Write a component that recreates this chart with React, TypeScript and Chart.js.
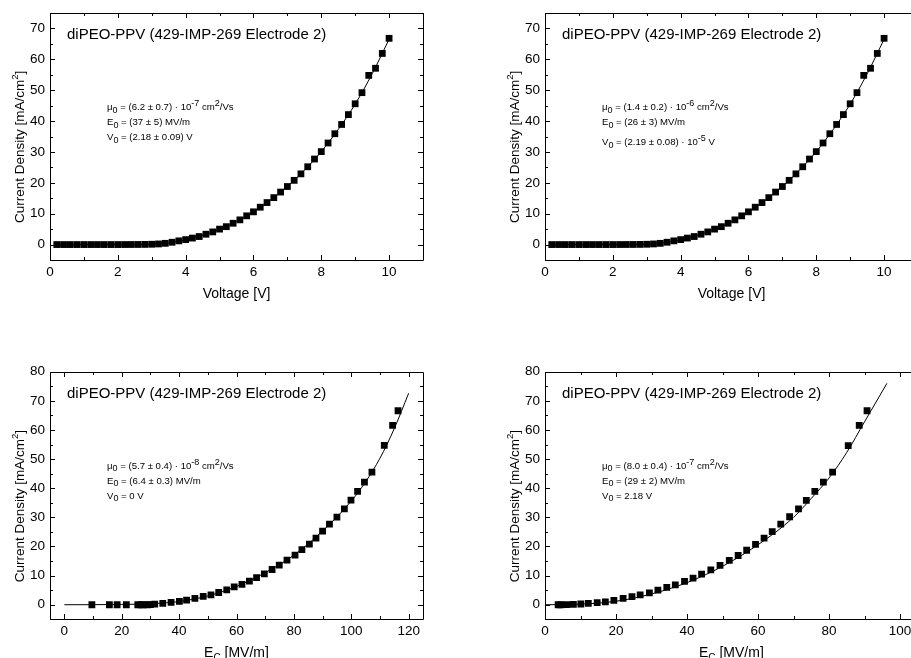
import React, { useEffect, useRef } from 'react';
import { Chart, registerables } from 'chart.js';

Chart.register(...registerables);

const FONT = '"Liberation Sans", Arial, Helvetica, sans-serif';

// ---------- data ----------
const voltage = [
  0.2, 0.4, 0.6, 0.8, 1.0, 1.2, 1.4, 1.6, 1.8, 2.0,
  2.2, 2.4, 2.6, 2.8, 3.0, 3.2, 3.4, 3.6, 3.8, 4.0,
  4.2, 4.4, 4.6, 4.8, 5.0, 5.2, 5.4, 5.6, 5.8, 6.0,
  6.2, 6.4, 6.6, 6.8, 7.0, 7.2, 7.4, 7.6, 7.8, 8.0,
  8.2, 8.4, 8.6, 8.8, 9.0, 9.2, 9.4, 9.6, 9.8, 10.0,
];
const currentDensity = [
  0, 0, 0, 0, 0, 0, 0, 0, 0, 0,
  0.01, 0.02, 0.03, 0.05, 0.1, 0.2, 0.4, 0.75, 1.2, 1.6,
  2.1, 2.6, 3.35, 4.1, 5.0, 5.8, 6.9, 8.0, 9.3, 10.6,
  12.1, 13.6, 15.2, 17.0, 18.8, 20.8, 22.9, 25.2, 27.7, 30.1,
  32.9, 35.9, 38.9, 42.1, 45.6, 49.2, 54.8, 57.1, 61.9, 66.8,
];
const voltageFit = [0.2, 1, 2, 2.5, 3, 3.5, 4, 4.5, 5, 5.5, 6, 6.5, 7, 7.5, 8, 8.5, 9, 9.5, 10];
const currentDensityFit = [0, 0, 0, 0.02, 0.1, 0.55, 1.6, 3.0, 4.9, 7.4, 10.6, 14.4, 18.8, 24.0, 30.1, 37.3, 45.5, 55.3, 66.5];

const fieldV0Zero = [
  9.6, 15.7, 18.4, 21.6, 25.6, 26.7, 27.5, 29.0, 30.0, 31.5,
  34.3, 37.2, 40.1, 42.6, 45.5, 48.4, 51.1, 53.8, 56.6, 59.2,
  61.9, 64.5, 67.0, 69.7, 72.4, 74.9, 77.6, 80.4, 82.8, 85.4,
  87.7, 90.0, 92.4, 95.0, 97.6, 99.9, 102.2, 104.6, 107.2, 111.5,
  114.4, 116.3,
];
const currentV0Zero = [
  0, 0, 0, 0, 0, 0, 0, 0, 0.05, 0.2,
  0.45, 0.8, 1.15, 1.6, 2.2, 2.85, 3.4, 4.2, 5.1, 6.1,
  7.0, 8.1, 9.3, 10.6, 12.1, 13.6, 15.3, 17.0, 18.9, 20.8,
  22.9, 25.3, 27.7, 30.1, 32.9, 35.9, 38.9, 42.1, 45.5, 54.7,
  61.6, 66.6,
];
const fieldV0ZeroFit = [0, 10, 20, 30, 40, 50, 60, 70, 80, 90, 100, 105, 110, 115, 120];
const currentV0ZeroFit = [0, 0.02, 0.1, 0.35, 1.1, 3.0, 6.3, 11.0, 17.0, 25.3, 35.6, 42.2, 50.3, 60.5, 72.6];

const fieldV0 = [
  3.7, 4.5, 6.1, 8.0, 10.1, 12.2, 14.7, 17.0, 19.4, 22.0,
  24.5, 26.8, 29.4, 31.8, 34.3, 36.7, 39.3, 41.7, 44.1, 46.7,
  49.3, 51.9, 54.4, 56.8, 59.3, 61.7, 64.0, 66.4, 68.9, 71.4,
  73.6, 76.0, 78.4, 81.0, 85.4, 88.5, 90.7,
];
const currentV0 = [
  0, 0, 0.05, 0.1, 0.25, 0.45, 0.7, 1.0, 1.5, 2.2,
  2.75, 3.4, 4.1, 5.0, 5.95, 6.85, 8.0, 9.15, 10.5, 12.0,
  13.5, 15.2, 16.9, 18.7, 20.7, 22.9, 25.1, 27.7, 30.2, 32.9,
  35.8, 38.9, 42.1, 45.5, 54.6, 61.6, 66.6,
];
const fieldV0Fit = [0, 10, 20, 30, 40, 50, 60, 70, 75, 80, 85, 90, 96.3];
const currentV0Fit = [0, 0.2, 1.2, 3.7, 7.6, 13.2, 20.6, 30.0, 36.5, 43.5, 52.3, 62.8, 76.0];

const voltageTicks = [0, 2, 4, 6, 8, 10];
const fieldTicksA = [0, 20, 40, 60, 80, 100, 120];
const fieldTicksB = [0, 20, 40, 60, 80, 100];
const densityTicksTop = [0, 10, 20, 30, 40, 50, 60, 70];
const densityTicksBottom = [0, 10, 20, 30, 40, 50, 60, 70, 80];

const titleText = 'diPEO-PPV (429-IMP-269 Electrode 2)';

type Seg = { t: string; m?: 'sub' | 'sup' };

const annotTL: Seg[][] = [
  [{ t: 'μ' }, { t: '0', m: 'sub' }, { t: ' = (6.2 ± 0.7) · 10' }, { t: '-7', m: 'sup' }, { t: ' cm' }, { t: '2', m: 'sup' }, { t: '/Vs' }],
  [{ t: 'E' }, { t: '0', m: 'sub' }, { t: ' = (37 ± 5) MV/m' }],
  [{ t: 'V' }, { t: '0', m: 'sub' }, { t: ' = (2.18 ± 0.09) V' }],
];
const annotTR: Seg[][] = [
  [{ t: 'μ' }, { t: '0', m: 'sub' }, { t: ' = (1.4 ± 0.2) · 10' }, { t: '-6', m: 'sup' }, { t: ' cm' }, { t: '2', m: 'sup' }, { t: '/Vs' }],
  [{ t: 'E' }, { t: '0', m: 'sub' }, { t: ' = (26 ± 3) MV/m' }],
  [{ t: 'V' }, { t: '0', m: 'sub' }, { t: ' = (2.19 ± 0.08) · 10' }, { t: '-5', m: 'sup' }, { t: ' V' }],
];
const annotBL: Seg[][] = [
  [{ t: 'μ' }, { t: '0', m: 'sub' }, { t: ' = (5.7 ± 0.4) · 10' }, { t: '-8', m: 'sup' }, { t: ' cm' }, { t: '2', m: 'sup' }, { t: '/Vs' }],
  [{ t: 'E' }, { t: '0', m: 'sub' }, { t: ' = (6.4 ± 0.3) MV/m' }],
  [{ t: 'V' }, { t: '0', m: 'sub' }, { t: ' = 0 V' }],
];
const annotBR: Seg[][] = [
  [{ t: 'μ' }, { t: '0', m: 'sub' }, { t: ' = (8.0 ± 0.4) · 10' }, { t: '-7', m: 'sup' }, { t: ' cm' }, { t: '2', m: 'sup' }, { t: '/Vs' }],
  [{ t: 'E' }, { t: '0', m: 'sub' }, { t: ' = (29 ± 2) MV/m' }],
  [{ t: 'V' }, { t: '0', m: 'sub' }, { t: ' = 2.18 V' }],
];

const xTitleVoltage: Seg[] = [{ t: 'Voltage [V]' }];
const xTitleField: Seg[] = [{ t: 'E' }, { t: 'C', m: 'sub' }, { t: ' [MV/m]' }];
const yTitle: Seg[] = [{ t: 'Current Density [mA/cm' }, { t: '2', m: 'sup' }, { t: ']' }];

// ---------- drawing helpers ----------
function drawSegs(
  ctx: CanvasRenderingContext2D,
  segs: Seg[],
  x: number,
  y: number,
  size: number,
  small: number,
  subDy: number,
  supDy: number,
  align: 'left' | 'center'
) {
  let w = 0;
  for (const s of segs) {
    ctx.font = `${s.m ? small : size}px ${FONT}`;
    w += ctx.measureText(s.t).width;
  }
  let cx = align === 'center' ? x - w / 2 : x;
  ctx.textAlign = 'left';
  ctx.textBaseline = 'alphabetic';
  for (const s of segs) {
    ctx.font = `${s.m ? small : size}px ${FONT}`;
    const dy = s.m === 'sub' ? subDy : s.m === 'sup' ? supDy : 0;
    ctx.fillText(s.t, cx, y + dy);
    cx += ctx.measureText(s.t).width;
  }
}

type PanelCfg = {
  left: number;
  top: number;
  width: number;
  height: number;
  area: { left: number; top: number; right: number; bottom: number };
  xs: number[];
  ys: number[];
  fx: number[];
  fy: number[];
  xMin: number;
  xMax: number;
  yMin: number;
  yMax: number;
  xTicks: number[];
  yTicks: number[];
  xMinorStep: number;
  yMinorStep: number;
  annot: Seg[][];
  annotBaselines: number[];
  xTitle: Seg[];
};

function makeDeco(c: PanelCfg) {
  return {
    id: 'deco',
    afterDraw(chart: any) {
      const ctx: CanvasRenderingContext2D = chart.ctx;
      const a = chart.chartArea;
      const xs = chart.scales.x;
      const ys = chart.scales.y;
      const L = Math.round(a.left);
      const R = Math.round(a.right);
      const T = Math.round(a.top);
      const B = Math.round(a.bottom);
      ctx.save();
      ctx.strokeStyle = '#000';
      ctx.fillStyle = '#000';
      ctx.lineWidth = 1;
      ctx.beginPath();
      ctx.rect(L + 0.5, T + 0.5, R - L, B - T);
      ctx.stroke();

      const major = 5;
      const minor = 3;
      ctx.beginPath();
      const x0 = Math.ceil(c.xMin / c.xMinorStep) * c.xMinorStep;
      for (let v = x0; v <= c.xMax + 1e-9; v += c.xMinorStep) {
        const isMajor = c.xTicks.some((t) => Math.abs(t - v) < 1e-6);
        const len = isMajor ? major : minor;
        const px = Math.round(xs.getPixelForValue(v)) + 0.5;
        ctx.moveTo(px, B);
        ctx.lineTo(px, B - len);
        ctx.moveTo(px, T);
        ctx.lineTo(px, T + len);
      }
      const y0 = Math.ceil(c.yMin / c.yMinorStep) * c.yMinorStep;
      for (let v = y0; v <= c.yMax + 1e-9; v += c.yMinorStep) {
        const isMajor = c.yTicks.some((t) => Math.abs(t - v) < 1e-6);
        const len = isMajor ? major : minor;
        const py = Math.round(ys.getPixelForValue(v)) + 0.5;
        ctx.moveTo(L, py);
        ctx.lineTo(L + len, py);
        ctx.moveTo(R, py);
        ctx.lineTo(R - len, py);
      }
      ctx.stroke();

      // title
      ctx.font = `15px ${FONT}`;
      ctx.textAlign = 'left';
      ctx.textBaseline = 'alphabetic';
      ctx.fillText(titleText, a.left + 17, a.top + 26);

      // annotation
      c.annot.forEach((line, i) => {
        drawSegs(ctx, line, a.left + 57, a.top + c.annotBaselines[i], 9.6, 9, 2.5, -3.8, 'left');
      });

      // x title
      drawSegs(ctx, c.xTitle, (a.left + a.right) / 2, a.bottom + 37.7, 14, 10, 3.5, -5, 'center');

      // y title (rotated)
      ctx.save();
      ctx.translate(a.left - 26, a.bottom - 37);
      ctx.rotate(-Math.PI / 2);
      drawSegs(ctx, yTitle, 0, 0, 13.5, 9.5, 3.5, -6, 'left');
      ctx.restore();

      ctx.restore();
    },
  };
}

function Panel({ c }: { c: PanelCfg }) {
  const ref = useRef<HTMLCanvasElement>(null);
  useEffect(() => {
    const canvas = ref.current!;
    const tickFont = { family: FONT, size: 13.5 };
    const chart = new Chart(canvas, {
      type: 'scatter',
      data: {
        datasets: [
          {
            data: c.xs.map((x, i) => ({ x, y: c.ys[i] })),
            showLine: false,
            pointStyle: 'rect',
            pointRadius: 4.8,
            pointHoverRadius: 4.8,
            backgroundColor: '#000',
            borderColor: '#000',
            borderWidth: 0,
          },
          {
            data: c.fx.map((x, i) => ({ x, y: c.fy[i] })),
            showLine: true,
            borderColor: '#000',
            borderWidth: 1,
            pointRadius: 0,
            pointHoverRadius: 0,
            cubicInterpolationMode: 'monotone',
            fill: false,
          },
        ],
      } as any,
      options: {
        responsive: false,
        animation: false,
        devicePixelRatio: 1,
        events: [],
        layout: {
          padding: {
            left: 0,
            top: c.area.top,
            right: c.width - c.area.right,
            bottom: 0,
          },
        },
        plugins: {
          legend: { display: false },
          tooltip: { enabled: false },
        },
        scales: {
          x: {
            type: 'linear',
            min: c.xMin,
            max: c.xMax,
            grid: { display: false, drawTicks: false },
            border: { display: false },
            ticks: { font: tickFont, color: '#000', padding: 4, maxRotation: 0, autoSkip: false },
            afterBuildTicks: (s: any) => {
              s.ticks = c.xTicks.map((v) => ({ value: v }));
            },
            afterFit: (s: any) => {
              s.height = c.height - c.area.bottom;
              s.paddingLeft = 0;
              s.paddingRight = 0;
            },
          },
          y: {
            type: 'linear',
            min: c.yMin,
            max: c.yMax,
            grid: { display: false, drawTicks: false },
            border: { display: false },
            ticks: { font: tickFont, color: '#000', padding: 5, autoSkip: false },
            afterBuildTicks: (s: any) => {
              s.ticks = c.yTicks.map((v) => ({ value: v }));
            },
            afterFit: (s: any) => {
              s.width = c.area.left;
              s.paddingTop = 0;
              s.paddingBottom = 0;
            },
          },
        },
      } as any,
      plugins: [makeDeco(c) as any],
    });
    return () => chart.destroy();
  }, [c]);
  return (
    <canvas
      ref={ref}
      width={c.width}
      height={c.height}
      style={{ position: 'absolute', left: c.left, top: c.top, width: c.width, height: c.height }}
    />
  );
}

const panels: PanelCfg[] = [
  {
    left: 0, top: 0, width: 460, height: 329,
    area: { left: 50, top: 13, right: 423, bottom: 260 },
    xs: voltage, ys: currentDensity, fx: voltageFit, fy: currentDensityFit,
    xMin: 0, xMax: 11, yMin: -5, yMax: 75,
    xTicks: voltageTicks, yTicks: densityTicksTop, xMinorStep: 1, yMinorStep: 5,
    annot: annotTL, annotBaselines: [97, 112, 127], xTitle: xTitleVoltage,
  },
  {
    left: 455, top: 0, width: 470, height: 329,
    area: { left: 90, top: 13, right: 463, bottom: 260 },
    xs: voltage, ys: currentDensity, fx: voltageFit, fy: currentDensityFit,
    xMin: 0, xMax: 11, yMin: -5, yMax: 75,
    xTicks: voltageTicks, yTicks: densityTicksTop, xMinorStep: 1, yMinorStep: 5,
    annot: annotTR, annotBaselines: [97, 112, 132], xTitle: xTitleVoltage,
  },
  {
    left: 0, top: 329, width: 460, height: 329,
    area: { left: 50, top: 42.7, right: 423, bottom: 290.3 },
    xs: fieldV0Zero, ys: currentV0Zero, fx: fieldV0ZeroFit, fy: currentV0ZeroFit,
    xMin: -5, xMax: 125, yMin: -5, yMax: 80,
    xTicks: fieldTicksA, yTicks: densityTicksBottom, xMinorStep: 10, yMinorStep: 5,
    annot: annotBL, annotBaselines: [97, 112, 127], xTitle: xTitleField,
  },
  {
    left: 455, top: 329, width: 470, height: 329,
    area: { left: 90, top: 42.7, right: 462.8, bottom: 290.3 },
    xs: fieldV0, ys: currentV0, fx: fieldV0Fit, fy: currentV0Fit,
    xMin: 0, xMax: 105, yMin: -5, yMax: 80,
    xTicks: fieldTicksB, yTicks: densityTicksBottom, xMinorStep: 10, yMinorStep: 5,
    annot: annotBR, annotBaselines: [97, 112, 127], xTitle: xTitleField,
  },
];

export default function App() {
  return (
    <div
      style={{
        position: 'fixed',
        left: 0,
        top: 0,
        width: 911,
        height: 658,
        overflow: 'hidden',
        background: '#fff',
      }}
    >
      {panels.map((p, i) => (
        <Panel key={i} c={p} />
      ))}
    </div>
  );
}
